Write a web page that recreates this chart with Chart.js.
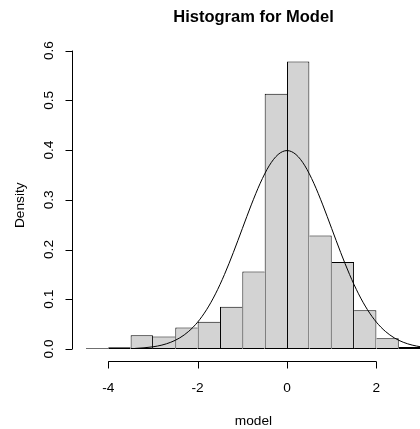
<!DOCTYPE html>
<html>
<head>
<meta charset="utf-8">
<script src="https://cdn.jsdelivr.net/npm/chart.js@4.4.1/dist/chart.umd.min.js"></script>
<style>
  html, body { margin: 0; padding: 0; background: #fff; overflow: hidden; }
  #wrap { width: 420px; height: 429px; overflow: hidden; }
</style>
</head>
<body>
<div id="wrap"><canvas id="myChart" width="440" height="429"></canvas></div>
<script>
// histogram bins (width 0.5) and densities
const binStarts = [-4.5, -4, -3.5, -3, -2.5, -2, -1.5, -1, -0.5, 0, 0.5, 1, 1.5, 2, 2.5];
const density = [0.0015, 0.0035, 0.0275, 0.025, 0.043, 0.055, 0.085, 0.156, 0.513, 0.578, 0.228, 0.175, 0.078, 0.0215, 0.004];

// normal curve drawn over the bars
const curveX = [-3.4, -3.2, -3.0, -2.8, -2.6, -2.4, -2.2, -2.0, -1.8, -1.6, -1.4, -1.2, -1.0, -0.8, -0.6, -0.4, -0.2, 0,
  0.2, 0.4, 0.6, 0.8, 1.0, 1.2, 1.4, 1.6, 1.8, 2.0, 2.2, 2.4, 2.6, 2.8, 3.0, 3.2, 3.3];
const curveY = [0.0012, 0.0024, 0.0044, 0.0079, 0.0136, 0.0224, 0.0355, 0.054, 0.079, 0.1109, 0.1497, 0.1942, 0.242, 0.2897, 0.3332, 0.3683, 0.391, 0.3989,
  0.391, 0.3683, 0.3332, 0.2897, 0.242, 0.1942, 0.1497, 0.1109, 0.079, 0.054, 0.0355, 0.0224, 0.0136, 0.0079, 0.0044, 0.0024, 0.0017];

const xTicks = [-4, -2, 0, 2];
const xTickLabels = ['-4', '-2', '0', '2'];
const yTicks = [0, 0.1, 0.2, 0.3, 0.4, 0.5, 0.6];
const yTickLabels = ['0.0', '0.1', '0.2', '0.3', '0.4', '0.5', '0.6'];

const binWidth = 0.5;
const FONT = '"Liberation Sans", Arial, sans-serif';

// R style axes, labels and title
const rAxes = {
  id: 'rAxes',
  afterDraw(chart) {
    const ctx = chart.ctx;
    const x = chart.scales.x, y = chart.scales.y;
    const area = chart.chartArea;
    ctx.save();
    ctx.strokeStyle = '#000';
    ctx.fillStyle = '#000';
    ctx.lineWidth = 1;

    // x axis
    const ay = Math.round(area.bottom) + 0.5;
    ctx.beginPath();
    ctx.moveTo(x.getPixelForValue(xTicks[0]), ay);
    ctx.lineTo(x.getPixelForValue(xTicks[xTicks.length - 1]), ay);
    xTicks.forEach(t => {
      const px = Math.round(x.getPixelForValue(t)) + 0.5;
      ctx.moveTo(px, ay);
      ctx.lineTo(px, ay + 7);
    });
    ctx.stroke();
    ctx.font = '13.7px ' + FONT;
    ctx.textAlign = 'center';
    ctx.textBaseline = 'alphabetic';
    xTicks.forEach((t, i) => {
      ctx.fillText(xTickLabels[i], x.getPixelForValue(t), 392);
    });

    // y axis
    const ax = Math.round(area.left) - 0.5;
    ctx.beginPath();
    ctx.moveTo(ax, y.getPixelForValue(yTicks[0]));
    ctx.lineTo(ax, y.getPixelForValue(yTicks[yTicks.length - 1]));
    yTicks.forEach(t => {
      const py = Math.round(y.getPixelForValue(t)) + 0.5;
      ctx.moveTo(ax, py);
      ctx.lineTo(ax - 7, py);
    });
    ctx.stroke();
    yTicks.forEach((t, i) => {
      ctx.save();
      ctx.translate(53, y.getPixelForValue(t));
      ctx.rotate(-Math.PI / 2);
      ctx.fillText(yTickLabels[i], 0, 0);
      ctx.restore();
    });

    // axis titles
    const midX = (area.left + area.right) / 2;
    const midY = (area.top + area.bottom) / 2;
    ctx.fillText('model', midX, 425);
    ctx.save();
    ctx.translate(23.5, midY);
    ctx.rotate(-Math.PI / 2);
    ctx.fillText('Density', 0, 0);
    ctx.restore();

    // main title
    ctx.font = 'bold 16.5px ' + FONT;
    ctx.fillText('Histogram for Model', midX, 22);
    ctx.restore();
  }
};

function edgeWidths(ctx) {
  const i = ctx.dataIndex;
  const v = density[i];
  const prev = i > 0 ? density[i - 1] : -1;
  const next = i < density.length - 1 ? density[i + 1] : -1;
  return { top: 1, bottom: 1, left: v >= prev ? 1 : 0, right: v > next ? 1 : 0 };
}

const ctx = document.getElementById('myChart').getContext('2d');
const myChart = new Chart(ctx, {
  type: 'bar',
  data: {
    datasets: [
      {
        type: 'line',
        data: curveX.map((v, i) => ({ x: v, y: curveY[i] })),
        borderColor: '#000',
        borderWidth: 1,
        pointRadius: 0,
        fill: false,
        cubicInterpolationMode: 'monotone'
      },
      {
        type: 'bar',
        data: binStarts.map((b, i) => ({ x: b + binWidth / 2, y: density[i] })),
        backgroundColor: '#d3d3d3',
        borderColor: '#000',
        borderWidth: edgeWidths,
        borderSkipped: false,
        barPercentage: 1,
        categoryPercentage: 1,
        inflateAmount: 0
      }
    ]
  },
  options: {
    responsive: false,
    animation: false,
    devicePixelRatio: 1,
    layout: { padding: { left: 72.5, right: 5.5, top: 50, bottom: 68.5 } },
    plugins: { legend: { display: false }, tooltip: { enabled: false } },
    scales: {
      x: { type: 'linear', min: -4.8, max: 3.3, offset: false, display: false },
      y: { min: -0.0231, max: 0.6011, display: false }
    }
  },
  plugins: [rAxes]
});
</script>
</body>
</html>
